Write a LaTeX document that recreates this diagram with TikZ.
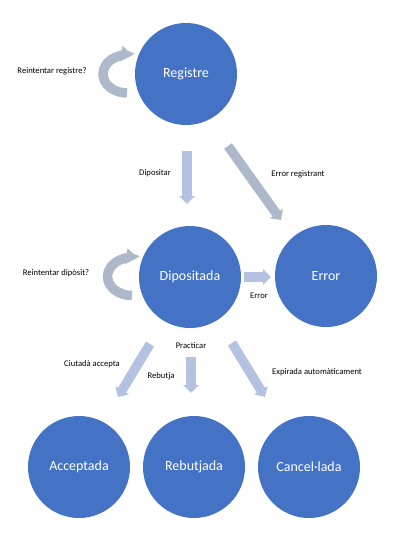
\documentclass[tikz,border=0pt]{standalone}
\usepackage{fontspec}
\setmainfont{Carlito}
\usetikzlibrary{arrows.meta}
\definecolor{stateblue}{HTML}{4472C4}
\definecolor{arrlav}{HTML}{B4C2E2}
\definecolor{arrgrey}{HTML}{ADB9CA}
\tikzset{
  state/.style={circle, fill=stateblue, minimum size=102pt, inner sep=0pt, text=white, font=\fontsize{14}{16}\selectfont},
  lbl/.style={font=\fontsize{8.6}{10}\selectfont, text=black, inner sep=0pt},
  blockarrow/.style={line width=9.5pt, -{Triangle[length=8pt,width=15.5pt]}},
  looparrow/.style={line width=9.5pt, -{Triangle[length=11pt,width=15.5pt]}, arrgrey}
}
\begin{document}
\begin{tikzpicture}[x=1pt,y=-1pt]
\useasboundingbox (0,0) rectangle (401,541);
\fill[white] (0,0) rectangle (401,541);

% states
\node[state] (reg) at (186,74) {Registre};
\node[state] (dip) at (190,277) {Dipositada};
\node[state] (err) at (326,276) {Error};
\node[state] (acc) at (79,467) {Acceptada};
\node[state] (reb) at (194,467) {Rebutjada};
\node[state] (can) at (309,467) {Cancel·lada};

% arrow anchors
\coordinate (a1s) at (187,151); \coordinate (a1e) at (187,204);
\coordinate (a2s) at (228,146); \coordinate (a2e) at (281,220);
\coordinate (a3s) at (244,277); \coordinate (a3e) at (271,277);
\coordinate (a4s) at (150,344); \coordinate (a4e) at (118,397);
\coordinate (a5s) at (191,357); \coordinate (a5e) at (191,393);
\coordinate (a6s) at (232,343); \coordinate (a6e) at (265,397);

\draw[blockarrow, arrlav] (a1s) -- (a1e);
\draw[blockarrow, arrgrey] (a2s) -- (a2e);
\draw[blockarrow, arrlav] (a3s) -- (a3e);
\draw[blockarrow, arrlav] (a4s) -- (a4e);
\draw[blockarrow, arrlav] (a5s) -- (a5e);
\draw[blockarrow, arrlav] (a6s) -- (a6e);

% loops
\coordinate (l1s) at (127,93);
\draw[looparrow] (l1s) arc[start angle=90, end angle=282, x radius=24, y radius=19];
\coordinate (l2s) at (132,295.5);
\draw[looparrow] (l2s) arc[start angle=90, end angle=282, x radius=24.5, y radius=19];

% labels
\node[lbl] (t1) at (52,71) {Reintentar registre?};
\node[lbl] (t2) at (155,173) {Dipositar};
\node[lbl] (t3) at (298,174) {Error registrant};
\node[lbl] (t4) at (56,273) {Reintentar dipòsit?};
\node[lbl] (t5) at (259,296) {Error};
\node[lbl] (t6) at (191,346) {Practicar};
\node[lbl] (t7) at (92,364) {Ciutadà accepta};
\node[lbl] (t8) at (161,376) {Rebutja};
\node[lbl] (t9) at (317,372) {Expirada automàticament};
\end{tikzpicture}
\end{document}
